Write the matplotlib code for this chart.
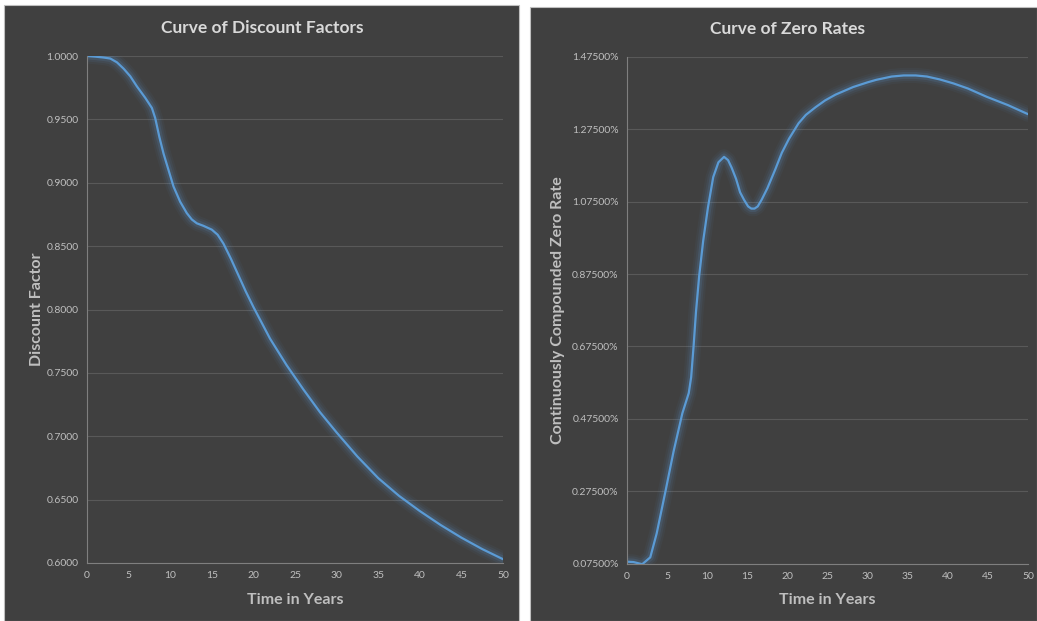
import matplotlib
matplotlib.use("Agg")
import matplotlib.pyplot as plt
from matplotlib.patches import Rectangle

# valores (anos, fator de desconto)
anos_df = [0, 1, 2, 2.8, 3.6, 4.4, 5.2, 6, 7, 7.8, 8.2, 8.7, 9.2, 9.8, 10.4, 11.2, 12, 12.6,
           13.2, 14, 15, 15.7, 16.4, 17.3, 18.2, 19.1, 20, 22, 24, 26, 28, 30, 32.5, 35, 37.5,
           40, 42.5, 45, 47.5, 50]
fator_desconto = [1.0, 0.9995, 0.9988, 0.998, 0.995, 0.990, 0.984, 0.976, 0.967, 0.959, 0.951,
                  0.936, 0.923, 0.910, 0.897, 0.885, 0.876, 0.871, 0.868, 0.866, 0.863, 0.859,
                  0.852, 0.840, 0.827, 0.814, 0.802, 0.777, 0.756, 0.737, 0.719, 0.703, 0.684,
                  0.667, 0.653, 0.641, 0.630, 0.620, 0.611, 0.603]

# valores (anos, taxa zero em %)
anos_zr = [0, 0.8, 1.9, 2.9, 3.7, 4.8, 5.8, 6.9, 7.7, 8.0, 8.3, 8.6, 9.0, 9.5, 10.1, 10.75,
           11.4, 12.1, 12.6, 13.05, 13.6, 14.1, 14.6, 15.1, 15.5, 15.9, 16.3, 16.8, 17.5, 18.5,
           19.3, 20.2, 21.4, 22.3, 23.5, 24.7, 26, 28.2, 30, 31.1, 33, 34.5, 36, 37.4, 39, 40.7,
           42.5, 44.85, 47.5, 50]
taxa_zero = [0.080, 0.079, 0.073, 0.092, 0.158, 0.275, 0.384, 0.490, 0.546, 0.590, 0.675, 0.770,
             0.870, 0.967, 1.060, 1.143, 1.184, 1.199, 1.190, 1.169, 1.138, 1.101, 1.080, 1.062,
             1.056, 1.056, 1.062, 1.081, 1.112, 1.165, 1.210, 1.249, 1.292, 1.315, 1.336, 1.355,
             1.371, 1.392, 1.405, 1.412, 1.421, 1.424, 1.424, 1.421, 1.413, 1.402, 1.388, 1.365,
             1.342, 1.317]

ticks_x = list(range(0, 51, 5))
ticks_df = [0.60, 0.65, 0.70, 0.75, 0.80, 0.85, 0.90, 0.95, 1.00]
ticks_zr = [0.075, 0.275, 0.475, 0.675, 0.875, 1.075, 1.275, 1.475]

FUNDO = "#404040"
AZUL = "#5b9bd5"
TEXTO = "#d9d9d9"
TEXTO_EIXO = "#bfbfbf"
GRADE = "#595959"

plt.rcParams["font.family"] = ["Lato", "DejaVu Sans"]

fig = plt.figure(figsize=(10.37, 6.21), dpi=100)
fig.patch.set_facecolor("white")

# painéis escuros (estilo Excel)
W, H = 1037, 621
for (x0, y0, x1, y1) in [(4, 5, 519, 621), (530, 7, 1037, 621)]:
    fig.patches.append(Rectangle((x0 / W, 1 - y1 / H), (x1 - x0) / W, (y1 - y0) / H,
                                 transform=fig.transFigure, facecolor=FUNDO,
                                 edgecolor="#bfbfbf", linewidth=0.8, zorder=-5))


def estiliza(ax, xs, ys, yticks, fmt, ylim):
    ax.set_facecolor(FUNDO)
    # brilho em volta da linha
    for lw, a in [(11, 0.05), (8, 0.08), (5, 0.14)]:
        ax.plot(xs, ys, color=AZUL, linewidth=lw, alpha=a, solid_capstyle="round",
                solid_joinstyle="round")
    ax.plot(xs, ys, color=AZUL, linewidth=1.6, solid_capstyle="round", solid_joinstyle="round")
    ax.set_xlim(0, 50)
    ax.set_ylim(*ylim)
    ax.set_xticks(ticks_x)
    ax.set_yticks(yticks)
    ax.set_yticklabels([fmt(v) for v in yticks])
    ax.tick_params(colors=TEXTO_EIXO, labelsize=7.5, length=0, pad=6)
    ax.grid(axis="y", color=GRADE, linewidth=0.8)
    ax.set_axisbelow(True)
    for s in ["top", "right"]:
        ax.spines[s].set_visible(False)
    for s in ["left", "bottom"]:
        ax.spines[s].set_color("#7f7f7f")
        ax.spines[s].set_linewidth(0.8)


ax1 = fig.add_axes([87 / W, 1 - 563 / H, 416 / W, 507 / H])
estiliza(ax1, anos_df, fator_desconto, ticks_df, lambda v: f"{v:.4f}", (0.60, 1.00))
ax1.set_xlabel("Time in Years", color=TEXTO_EIXO, fontsize=11.5, fontweight="bold", labelpad=9)
ax1.set_ylabel("Discount Factor", color=TEXTO_EIXO, fontsize=11.5, fontweight="bold", labelpad=2)

ax2 = fig.add_axes([627 / W, 1 - 563.5 / H, 401 / W, 506.5 / H])
estiliza(ax2, anos_zr, taxa_zero, ticks_zr, lambda v: f"{v:.5f}%", (0.075, 1.475))
ax2.set_xlabel("Time in Years", color=TEXTO_EIXO, fontsize=11.5, fontweight="bold", labelpad=9)
ax2.set_ylabel("Continuously Compounded Zero Rate", color=TEXTO_EIXO, fontsize=11.5,
               fontweight="bold", labelpad=5)

fig.text(262 / W, 1 - 28 / H, "Curve of Discount Factors", color=TEXTO, fontsize=12.5,
         fontweight="bold", ha="center", va="center")
fig.text(788 / W, 1 - 29 / H, "Curve of Zero Rates", color=TEXTO, fontsize=12.5,
         fontweight="bold", ha="center", va="center")

fig.savefig("out.png", dpi=100, facecolor=fig.get_facecolor())
